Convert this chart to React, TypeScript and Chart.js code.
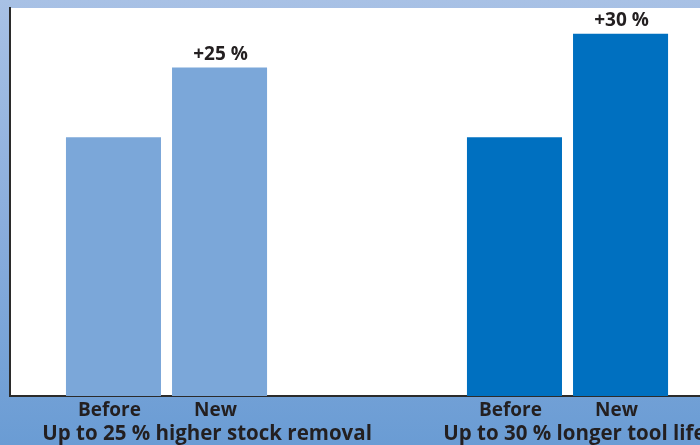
import React, { useEffect, useRef } from "react";
import { Chart, registerables } from "chart.js";

Chart.register(...registerables);

// ---- data ----
const groups = ["Up to 25 % higher stock removal", "Up to 30 % longer tool life"];
const seriesNames = ["Before", "New"];
const beforeValues = [100, 100];
const newValues = [127, 140];
const gainLabels = ["+25 %", "+30 %"];
const groupColors = ["#7ba7d9", "#0070c0"];

const TEXT = "#231f20";
const FONT = "'Open Sans', 'DejaVu Sans', sans-serif";
// group captions start a little left of each group (in x-axis units)
const CAPTION_SHIFT = 0.31;

const plotBackground = {
  id: "plotBackground",
  beforeDraw(chart: any) {
    const { ctx, chartArea } = chart;
    ctx.save();
    ctx.fillStyle = "#ffffff";
    ctx.fillRect(chartArea.left, chartArea.top, chartArea.right - chartArea.left, chartArea.bottom - chartArea.top);
    ctx.restore();
  },
};

const barLabels = {
  id: "barLabels",
  afterDraw(chart: any) {
    const { ctx, chartArea } = chart;
    ctx.save();
    ctx.fillStyle = TEXT;
    ctx.textAlign = "center";
    ctx.textBaseline = "middle";
    ctx.font = `bold 19px ${FONT}`;
    chart.data.datasets.forEach((ds: any, di: number) => {
      const meta = chart.getDatasetMeta(di);
      meta.data.forEach((bar: any, i: number) => {
        ctx.fillText(ds.label, bar.x - 4, chartArea.bottom + 15);
        if (di === 1) {
          ctx.fillText(gainLabels[i], bar.x + 1, bar.y - 13);
        }
      });
    });
    ctx.restore();
  },
};

export default function App() {
  const ref = useRef<HTMLCanvasElement | null>(null);

  useEffect(() => {
    if (!ref.current) return;
    const chart = new Chart(ref.current, {
      type: "bar",
      data: {
        datasets: [
          {
            label: seriesNames[0],
            data: beforeValues.map((v, i) => ({ x: i, y: v })),
            backgroundColor: groupColors,
            borderWidth: 0,
          },
          {
            label: seriesNames[1],
            data: newValues.map((v, i) => ({ x: i, y: v })),
            backgroundColor: groupColors,
            borderWidth: 0,
          },
        ],
      },
      options: {
        responsive: false,
        animation: false,
        devicePixelRatio: 1,
        categoryPercentage: 0.529,
        barPercentage: 0.896,
        layout: { padding: { left: 10, top: 8, right: 0, bottom: 0 } },
        plugins: {
          legend: { display: false },
          tooltip: { enabled: false },
        },
        scales: {
          x: {
            type: "linear",
            offset: false,
            min: -0.3903,
            max: 1.3304,
            grid: { display: false, drawTicks: false, offset: false },
            border: { display: true, color: "#2b2b2b", width: 2 },
            afterBuildTicks: (s: any) => {
              s.ticks = groups.map((_, i) => ({ value: i - CAPTION_SHIFT }));
            },
            afterFit: (s: any) => {
              s.paddingLeft = 0;
              s.paddingRight = 0;
              s.height = 49;
            },
            ticks: {
              autoSkip: false,
              maxRotation: 0,
              align: "start",
              padding: 26,
              color: TEXT,
              font: { family: FONT, size: 20.5, weight: "bold" },
              callback: (_v: any, index: number) => groups[index] ?? "",
            },
          },
          y: {
            min: 0,
            max: 150,
            grid: { display: false, drawTicks: false },
            border: { display: true, color: "#2b2b2b", width: 2 },
            ticks: { display: false },
            afterFit: (s: any) => {
              s.width = 0;
            },
          },
        },
      } as any,
      plugins: [plotBackground, barLabels],
    });
    return () => chart.destroy();
  }, []);

  return (
    <div
      style={{
        position: "fixed",
        left: 0,
        top: 0,
        width: 700,
        height: 445,
        overflow: "hidden",
        background: "linear-gradient(to bottom, #a8c1e5 0%, #8aaddc 50%, #6a9cd4 100%)",
      }}
    >
      <canvas ref={ref} width={700} height={445} style={{ display: "block" }} />
    </div>
  );
}
